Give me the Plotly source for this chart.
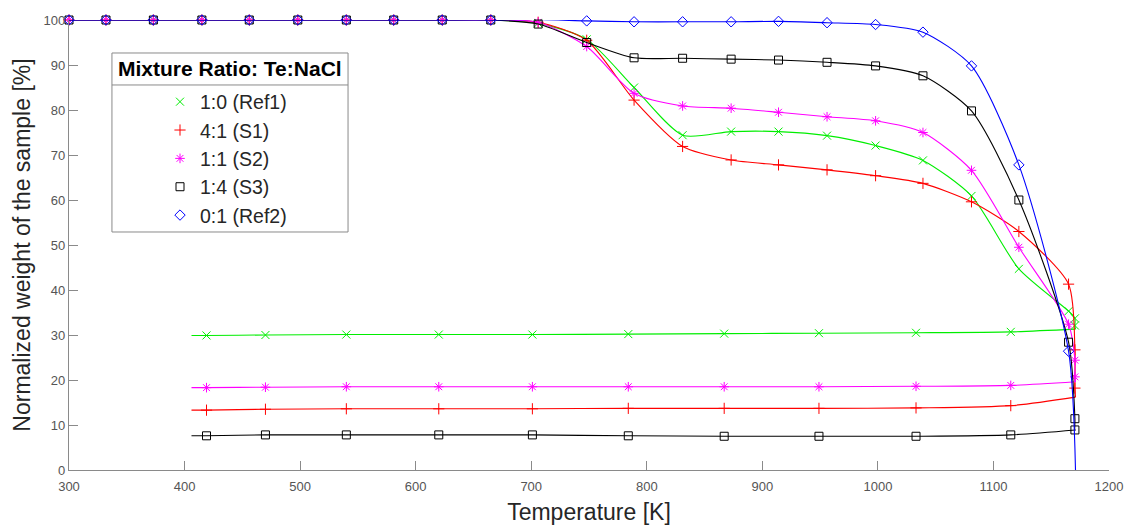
import plotly.graph_objects as go

# ---------------- data ----------------
HEAT_T = [300, 332, 373, 415, 456, 498, 540, 581, 623, 665, 706, 748, 789,
          831, 873, 914, 956, 998, 1039, 1081, 1122, 1165]
TAIL_T = [1170.5, 1170.5]
COOL_T = [1171, 1115, 1033, 949, 867, 784, 701, 620, 540, 470, 419, 406]

ref1_heat = [100, 100, 100, 100, 100, 100, 100, 100, 100, 100, 99.3, 95.7, 85.0,
             74.4, 75.2, 75.2, 74.3, 72.1, 68.8, 60.9, 44.7, 35.3]
ref1_tail = [33.7, 32.1]
ref1_cool = [31.3, 30.7, 30.5, 30.4, 30.3, 30.2, 30.1, 30.1, 30.1, 30.0, 29.9, 29.9]

s1_heat = [100, 100, 100, 100, 100, 100, 100, 100, 100, 100, 99.5, 95.5, 82.2,
           71.9, 68.9, 67.8, 66.7, 65.4, 63.7, 59.6, 53.0, 41.3]
s1_tail = [26.7, 18.2]
s1_cool = [16.2, 14.3, 13.8, 13.7, 13.7, 13.7, 13.6, 13.6, 13.6, 13.5, 13.3, 13.3]

s2_heat = [100, 100, 100, 100, 100, 100, 100, 100, 100, 100, 99.5, 94.1, 83.7,
           80.9, 80.4, 79.5, 78.5, 77.6, 75.0, 66.6, 49.5, 32.4]
s2_tail = [24.4, 20.7]
s2_cool = [19.6, 18.8, 18.6, 18.5, 18.5, 18.5, 18.5, 18.5, 18.5, 18.4, 18.3, 18.3]

s3_heat = [100, 100, 100, 100, 100, 100, 100, 100, 100, 100, 99.1, 95.0, 91.6,
           91.5, 91.3, 91.1, 90.6, 89.8, 87.6, 79.8, 60.0, 28.4]
s3_tail = [11.4, 8.9]
s3_cool = [8.9, 7.8, 7.5, 7.5, 7.5, 7.6, 7.8, 7.8, 7.8, 7.8, 7.6, 7.6]

ref2_heat = [100, 100, 100, 100, 100, 100, 100, 100, 100, 100, 100.1, 99.8, 99.6,
             99.6, 99.6, 99.7, 99.4, 99.0, 97.3, 89.8, 67.8, 26.4]
ref2_tail = []
ref2_cool_T = [1171]
ref2_cool = [0]

X_TICKS = [300, 400, 500, 600, 700, 800, 900, 1000, 1100, 1200]
Y_TICKS = [0, 10, 20, 30, 40, 50, 60, 70, 80, 90, 100]

names = ["1:0 (Ref1)", "4:1 (S1)", "1:1 (S2)", "1:4 (S3)", "0:1 (Ref2)"]
legend_title = "Mixture Ratio: Te:NaCl"
colors = ["#00ee00", "#ff0000", "#ff00ff", "#000000", "#0000ff"]
symbols = ["x-thin-open", "cross-thin-open", "asterisk-open", "square-open", "diamond-open"]

series = [
    (ref1_heat, TAIL_T, ref1_tail, COOL_T, ref1_cool),
    (s1_heat, TAIL_T, s1_tail, COOL_T, s1_cool),
    (s2_heat, TAIL_T, s2_tail, COOL_T, s2_cool),
    (s3_heat, TAIL_T, s3_tail, COOL_T, s3_cool),
    (ref2_heat, [], ref2_tail, ref2_cool_T, ref2_cool),
]

FONT = "Liberation Sans"
AX_COL = "#8a8a8a"

fig = go.Figure()

for (hw, tt, tw, ct, cw), name, col, sym in zip(series, names, colors, symbols):
    lx = HEAT_T + list(tt) + [ct[0]]
    ly = hw + list(tw) + [cw[0]]
    fig.add_trace(go.Scatter(x=lx, y=ly, mode="lines", showlegend=False,
                             line=dict(color=col, width=1.1, shape="spline", smoothing=0.7),
                             cliponaxis=False, hoverinfo="skip"))
    if len(ct) > 1:
        fig.add_trace(go.Scatter(x=ct, y=cw, mode="lines", showlegend=False,
                                 line=dict(color=col, width=1.1, shape="spline", smoothing=0.7),
                                 cliponaxis=False, hoverinfo="skip"))
    mx = HEAT_T + list(tt) + list(ct[1:-1])
    my = hw + list(tw) + list(cw[1:-1])
    fig.add_trace(go.Scatter(x=mx, y=my, mode="markers", name=name,
                             marker=dict(symbol=sym, size=8, color=col,
                                         line=dict(color=col, width=1)),
                             cliponaxis=False))

axis_common = dict(showline=True, linecolor=AX_COL, linewidth=1.2,
                   ticks="inside", ticklen=9, tickcolor=AX_COL, tickwidth=1,
                   showgrid=False, zeroline=False, mirror=False, automargin=False,
                   tickfont=dict(family=FONT, size=13, color="#555555"))

fig.update_xaxes(range=[300, 1200], tickmode="array", tickvals=X_TICKS,
                 ticklabelstandoff=4,
                 title=dict(text="Temperature [K]", standoff=11,
                            font=dict(family=FONT, size=23, color="#262626")),
                 **axis_common)
fig.update_yaxes(range=[0, 100], tickmode="array", tickvals=Y_TICKS,
                 title=dict(text="Normalized weight of the sample [%]", standoff=6,
                            font=dict(family=FONT, size=23, color="#262626")),
                 **axis_common)

# legend frame (box, title row, separator) in plot-area fractions
LX0, LX1, LY0, LY1, LSEP = 0.0413, 0.2683, 0.5289, 0.9267, 0.8556
fig.add_shape(type="rect", xref="paper", yref="paper", x0=LX0, x1=LX1, y0=LY0, y1=LY1,
              line=dict(color=AX_COL, width=1), fillcolor="white", layer="above")
fig.add_shape(type="line", xref="paper", yref="paper", x0=LX0, x1=LX1, y0=LSEP, y1=LSEP,
              line=dict(color=AX_COL, width=1), layer="above")
fig.add_annotation(xref="paper", yref="paper", x=(LX0 + LX1) / 2, y=(LSEP + LY1) / 2,
                   text="<b>" + legend_title + "</b>", showarrow=False,
                   xanchor="center", yanchor="middle",
                   font=dict(family=FONT, size=21, color="#000000"))

fig.update_layout(
    width=1124, height=525,
    margin=dict(l=69, r=15, t=20, b=55),
    plot_bgcolor="white", paper_bgcolor="white",
    font=dict(family=FONT),
    legend=dict(
        x=(160 - 69) / 1040, y=(470 - 82.5) / 450, xanchor="left", yanchor="top",
        bgcolor="rgba(0,0,0,0)", borderwidth=0,
        font=dict(family=FONT, size=19.5, color="#262626"),
    ),
)

# remove the default page margin so the figure sits at the window's top-left corner
fig.write_html("out.html",
               config={"displayModeBar": False},
               post_script="document.body.style.margin='0';document.body.style.overflow='hidden';")
